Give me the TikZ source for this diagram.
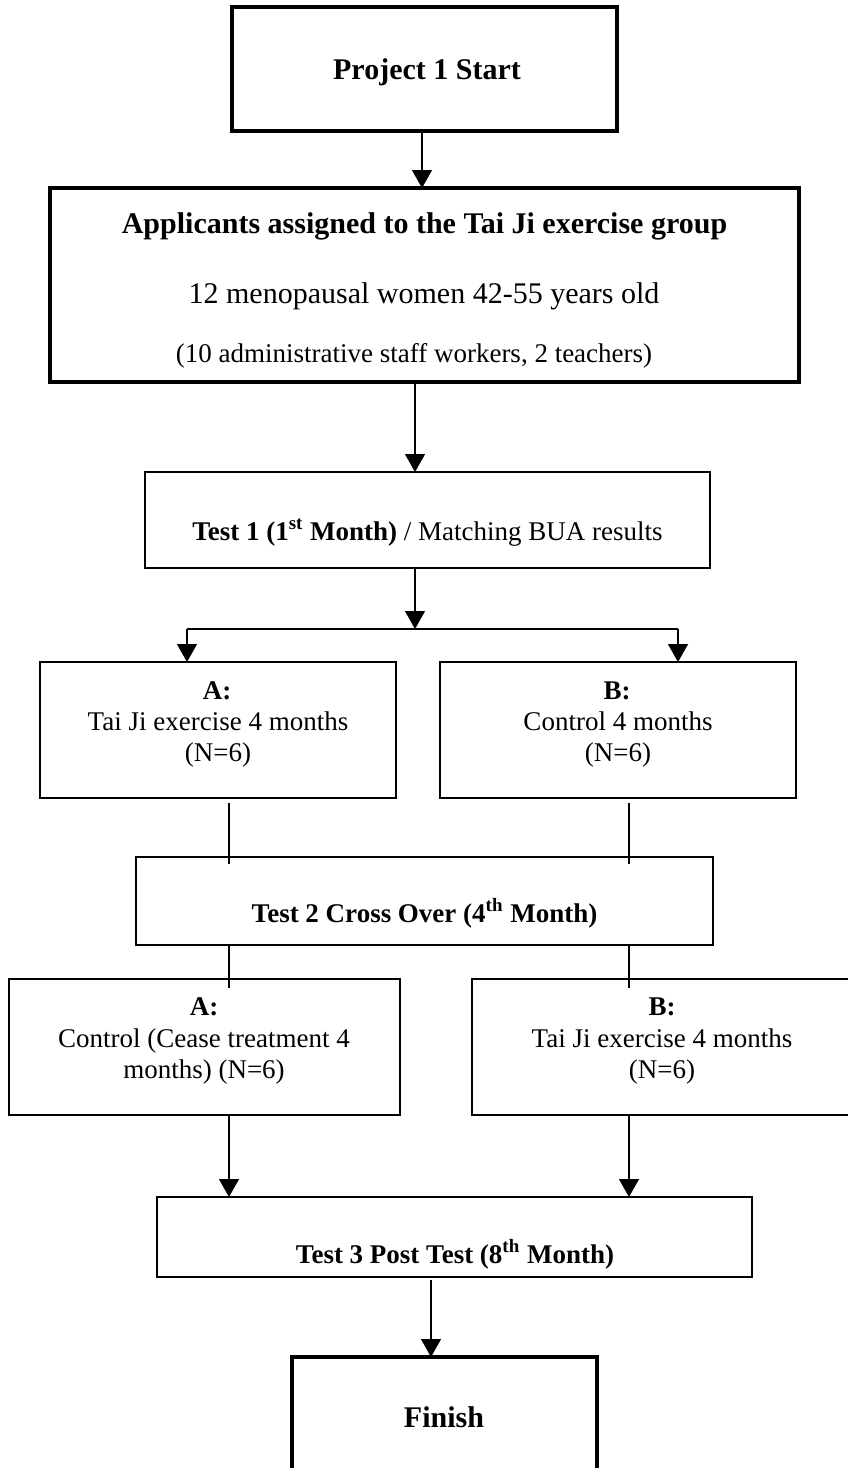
\documentclass[tikz,border=0pt]{standalone}
\usepackage{fontspec}
\setmainfont{Liberation Serif}
\usetikzlibrary{arrows.meta,calc}
\tikzset{
  thinbox/.style={draw=black,line width=0.75pt,rectangle,inner sep=0pt,outer sep=0pt},
  thickbox/.style={draw=black,line width=2pt,rectangle,inner sep=0pt,outer sep=0pt},
  txt/.style={anchor=base,inner sep=0pt,font=\fontsize{13.5pt}{15.5pt}\selectfont},
  btxt/.style={anchor=base,inner sep=0pt,font=\fontsize{13.5pt}{15.5pt}\selectfont\bfseries},
  bigtxt/.style={anchor=base,inner sep=0pt,font=\fontsize{15pt}{17pt}\selectfont},
  bigbtxt/.style={anchor=base,inner sep=0pt,font=\fontsize{15pt}{17pt}\selectfont\bfseries},
  conn/.style={draw=black,line width=0.65pt},
  arr/.style={conn,-{Triangle[length=9pt,width=10pt]}},
}
\begin{document}
\begin{tikzpicture}[x=0.5pt,y=-0.5pt]
\useasboundingbox (0,0) rectangle (847,1468);
% boxes
\node[thickbox,minimum width=192.5pt,minimum height=62pt] (b1) at (424.5,69) {};
\node[thickbox,minimum width=374.5pt,minimum height=97pt] (b2) at (424.5,285) {};
\node[thinbox,minimum width=282.5pt,minimum height=48pt] (t1) at (427.5,520) {};
\node[thinbox,minimum width=178pt,minimum height=68pt] (bA) at (218,730) {};
\node[thinbox,minimum width=178pt,minimum height=68pt] (bB) at (618,730) {};
\node[thinbox,minimum width=288.5pt,minimum height=44pt] (t2) at (424.5,901) {};
\node[thinbox,minimum width=195.5pt,minimum height=68pt] (bA2) at (204.5,1047) {};
\node[thinbox,minimum width=190pt,minimum height=68pt] (bB2) at (662,1047) {};
\node[thinbox,minimum width=297.5pt,minimum height=40pt] (t3) at (454.5,1237) {};
\node[thickbox,minimum width=152.5pt,minimum height=62pt] (fin) at (444.5,1419) {};
% texts
\node[bigbtxt] (l1) at (427,79) {Project 1 Start};
\node[bigbtxt] (l2a) at (424.5,233) {Applicants assigned to the Tai Ji exercise group};
\node[bigtxt] (l2b) at (424,303) {12 menopausal women 42-55 years old};
\node[txt] (l2c) at (414,362) {(10 administrative staff workers, 2 teachers)};
\node[txt] (l3) at (427.5,540) {\textbf{Test 1 (1\textsuperscript{st} Month)} / Matching BUA results};
\node[btxt] (lAa) at (217,699) {A:};
\node[txt] (lAb) at (218,730) {Tai Ji exercise 4 months};
\node[txt] (lAc) at (218,761) {(N=6)};
\node[btxt] (lBa) at (617,699) {B:};
\node[txt] (lBb) at (618,730) {Control 4 months};
\node[txt] (lBc) at (618,761) {(N=6)};
\node[btxt] (l4) at (424.5,922) {Test 2 Cross Over (4\textsuperscript{th} Month)};
\node[btxt] (lA2a) at (204,1015) {A:};
\node[txt] (lA2b) at (204,1047) {Control (Cease treatment 4};
\node[txt] (lA2c) at (204,1078) {months) (N=6)};
\node[btxt] (lB2a) at (662,1015) {B:};
\node[txt] (lB2b) at (662,1047) {Tai Ji exercise 4 months};
\node[txt] (lB2c) at (662,1078) {(N=6)};
\node[btxt] (l5) at (455,1263) {Test 3 Post Test (8\textsuperscript{th} Month)};
\node[bigbtxt] (l6) at (444,1427) {Finish};
% connector x positions
\coordinate (cx1) at (422,0);
\coordinate (cx2) at (415,0);
\coordinate (cxA) at (229,0);
\coordinate (cxB) at (629,0);
\coordinate (cx3) at (431,0);
\coordinate (jl) at (187,629);
\coordinate (jm) at (415,629);
\coordinate (jr) at (678,629);
% connectors
\draw[arr] (b1.south -| cx1) -- (b2.north -| cx1);
\draw[arr] (b2.south -| cx2) -- (t1.north -| cx2);
\draw[arr] (t1.south -| cx2) -- (jm);
\draw[conn] (jl) -- (jr);
\draw[arr] (jl) -- (bA.north -| jl);
\draw[arr] (jr) -- (bB.north -| jr);
\draw[conn] ($(bA.south -| cxA)+(0,5)$) -- ($(t2.north -| cxA)+(0,7)$);
\draw[conn] ($(bB.south -| cxB)+(0,5)$) -- ($(t2.north -| cxB)+(0,7)$);
\draw[conn] (t2.south -| cxA) -- ($(bA2.north -| cxA)+(0,9)$);
\draw[conn] (t2.south -| cxB) -- ($(bB2.north -| cxB)+(0,9)$);
\draw[arr] (bA2.south -| cxA) -- (t3.north -| cxA);
\draw[arr] (bB2.south -| cxB) -- (t3.north -| cxB);
\draw[arr] ($(t3.south -| cx3)+(0,3)$) -- (fin.north -| cx3);
\end{tikzpicture}
\end{document}
